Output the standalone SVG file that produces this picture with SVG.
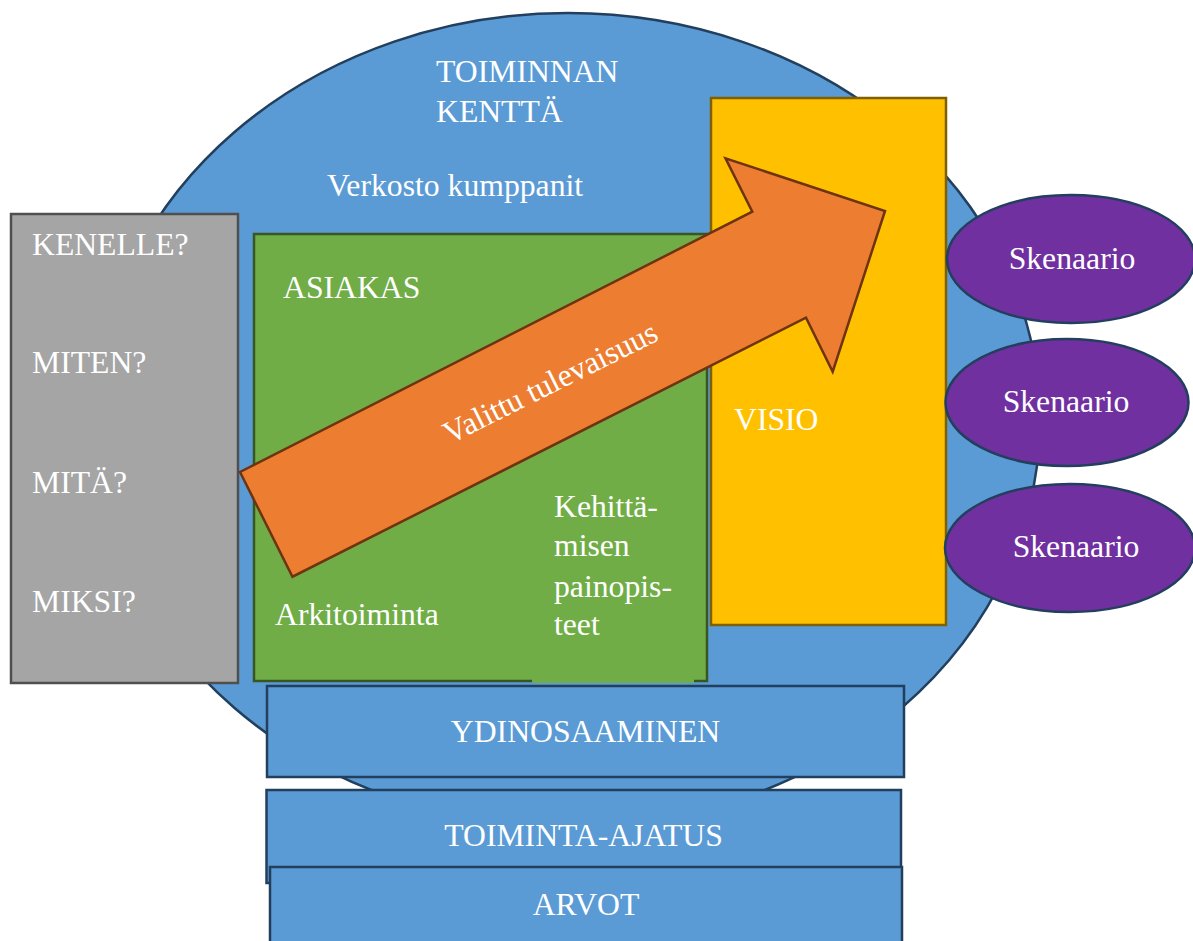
<svg xmlns="http://www.w3.org/2000/svg" width="1193" height="941" viewBox="0 0 1193 941">
<style>
text{font-family:"Liberation Serif","Times New Roman",serif;font-size:31.7px;fill:#ffffff}
.blue{fill:#5b9bd5;stroke:#223f5e;stroke-width:2.5}
.gray{fill:#a5a5a5;stroke:#4f4f4f;stroke-width:2.5}
.green{fill:#70ad47;stroke:#375623;stroke-width:2.5}
.yellow{fill:#ffc000;stroke:#7f6000;stroke-width:2.5}
.orange{fill:#ed7d31;stroke:#6e3310;stroke-width:2.5;stroke-linejoin:miter}
.purple{fill:#7030a0;stroke:#223f5e;stroke-width:2.5}
.mid{text-anchor:middle}
</style>
<rect width="1193" height="941" fill="#ffffff"/>
<g id="toiminnan-kentta">
<ellipse class="blue" cx="568" cy="420" rx="472" ry="407"/>
<text x="436" y="82">TOIMINNAN</text>
<text x="436" y="122">KENTTÄ</text>
<text x="327" y="196">Verkosto kumppanit</text>
</g>
<g id="kysymykset">
<rect class="gray" x="11" y="214" width="227" height="469"/>
<text x="32" y="255">KENELLE?</text>
<text x="32" y="373">MITEN?</text>
<text x="32" y="493">MITÄ?</text>
<text x="32" y="612">MIKSI?</text>
</g>
<g id="asiakas">
<rect class="green" x="254" y="234" width="453" height="447"/>
<rect x="532" y="470" width="162" height="213" fill="#70ad47"/>
<text x="283" y="298">ASIAKAS</text>
<text x="275" y="625">Arkitoiminta</text>
<text x="554" y="517">Kehittä-</text>
<text x="554" y="556">misen</text>
<text x="554" y="597">painopis-</text>
<text x="554" y="635">teet</text>
</g>
<g id="visio">
<rect class="yellow" x="711" y="98" width="235" height="527"/>
<text x="734" y="430">VISIO</text>
</g>
<g id="connectors">
<g id="valittu-tulevaisuus">
<polygon class="orange" points="240,472 292.5,576.7 806,317.7 832.7,371.7 885,211 725.5,158.3 752.3,211.7"/>
<text class="mid" transform="translate(555,392) rotate(-26.5)">Valittu tulevaisuus</text>
</g>
</g>
<g id="skenaario-1">
<ellipse class="purple" cx="1071" cy="259" rx="124" ry="64"/>
<text class="mid" x="1072" y="269">Skenaario</text>
</g>
<g id="skenaario-2">
<ellipse class="purple" cx="1067" cy="402.5" rx="121.5" ry="63.5"/>
<text class="mid" x="1066" y="412">Skenaario</text>
</g>
<g id="skenaario-3">
<ellipse class="purple" cx="1070" cy="548" rx="125" ry="64"/>
<text class="mid" x="1076" y="557">Skenaario</text>
</g>
<g id="ydinosaaminen">
<rect class="blue" x="267" y="686" width="637" height="91"/>
<text class="mid" x="585.5" y="742">YDINOSAAMINEN</text>
</g>
<g id="toiminta-ajatus">
<rect class="blue" x="266.5" y="790" width="634.5" height="93"/>
<text class="mid" x="583.5" y="846">TOIMINTA-AJATUS</text>
</g>
<g id="arvot">
<rect class="blue" x="270" y="867" width="632" height="90"/>
<text class="mid" x="586" y="915">ARVOT</text>
</g>
</svg>
